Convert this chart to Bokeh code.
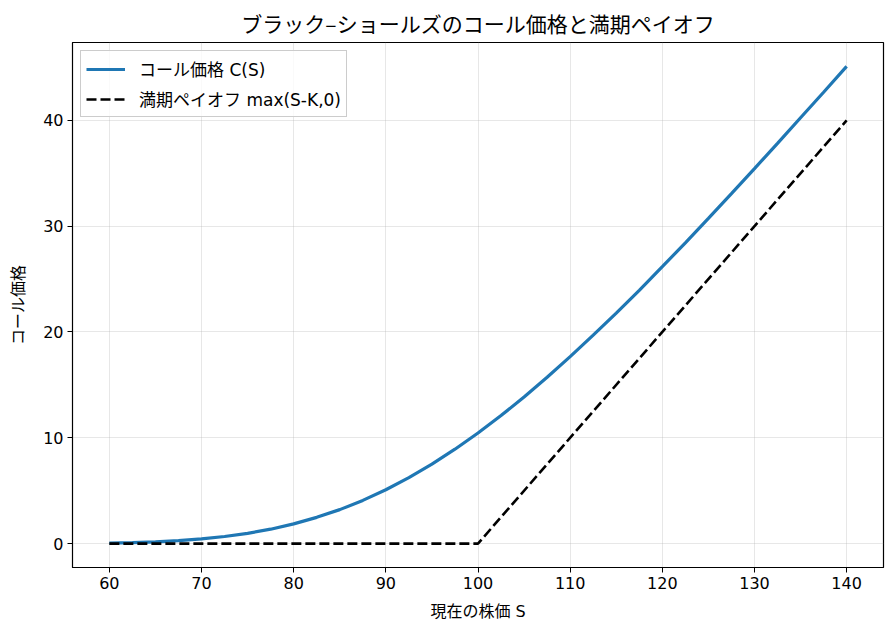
from bokeh.plotting import figure
from bokeh.models import Legend, LegendItem, FixedTicker, Range1d
from bokeh.embed import file_html
from bokeh.resources import INLINE

JP = "Noto Sans CJK JP"
MIX = "'DejaVu Sans', 'Noto Sans CJK JP'"

# stock price S and call value
spot = [60, 62.5, 65, 67.5, 70, 72.5, 75, 77.5, 80, 82.5, 85, 87.5, 90, 92.5, 95, 97.5,
        100, 102.5, 105, 107.5, 110, 112.5, 115, 117.5, 120, 122.5, 125, 127.5,
        130, 132.5, 135, 137.5, 140]
call_price = [0.05, 0.10, 0.17, 0.28, 0.44, 0.67, 0.97, 1.36, 1.86, 2.48, 3.21, 4.08,
              5.09, 6.24, 7.51, 8.92, 10.45, 12.10, 13.86, 15.72, 17.67, 19.70, 21.79,
              23.94, 26.17, 28.43, 30.73, 33.08, 35.44, 37.83, 40.25, 42.66, 45.10]

# payoff at expiry (kink at strike 100)
payoff_s = [60, 100, 140]
payoff_v = [0, 0, 40]

x_ticks = [60, 70, 80, 90, 100, 110, 120, 130, 140]
y_ticks = [0, 10, 20, 30, 40]

p = figure(width=895, height=636, output_backend="svg", toolbar_location=None,
           title="ブラック–ショールズのコール価格と満期ペイオフ",
           x_range=Range1d(56, 144), y_range=Range1d(-2.26, 47.36),
           min_border_left=72, min_border_right=12, min_border_top=42, min_border_bottom=69)

p.title.align = "center"
p.title.text_font = JP
p.title.text_font_size = "21px"
p.title.text_font_style = "normal"
p.title.text_color = "black"
p.title.standoff = 9

p.outline_line_color = "black"
p.outline_line_alpha = 1
p.outline_line_width = 1.2

for ax in (p.xaxis, p.yaxis):
    ax.major_label_text_font = MIX
    ax.major_label_text_font_size = "16px"
    ax.major_label_text_color = "black"
    ax.axis_label_text_font = MIX
    ax.axis_label_text_font_size = "16px"
    ax.axis_label_text_font_style = "normal"
    ax.axis_label_text_color = "black"
    ax.minor_tick_line_color = None
    ax.major_tick_out = 5
    ax.major_tick_in = 0
    ax.major_tick_line_color = "black"
    ax.axis_line_color = "black"
    ax.major_label_standoff = 4

p.xaxis.ticker = FixedTicker(ticks=x_ticks)
p.yaxis.ticker = FixedTicker(ticks=y_ticks)
p.xaxis.axis_label = "現在の株価 S"
p.yaxis.axis_label = "コール価格"
p.xaxis.axis_label_standoff = 10
p.yaxis.axis_label_standoff = 12

p.grid.grid_line_color = "#b0b0b0"
p.grid.grid_line_alpha = 0.3
p.grid.grid_line_width = 1

l1 = p.line(spot, call_price, line_width=3.2, color="#1f77b4")
l2 = p.line(payoff_s, payoff_v, line_width=2.6, color="black", line_dash="10 4")

legend = Legend(items=[LegendItem(label="コール価格 C(S)", renderers=[l1]),
                       LegendItem(label="満期ペイオフ max(S-K,0)", renderers=[l2])],
                location="top_left")
legend.label_text_font = MIX
legend.label_text_font_size = "17px"
legend.label_text_color = "black"
legend.border_line_color = "#cccccc"
legend.border_line_alpha = 1
legend.border_line_width = 1.5
legend.background_fill_alpha = 0.8
legend.glyph_width = 39
legend.glyph_height = 18
legend.label_standoff = 14
legend.spacing = 5
legend.margin = 8
legend.padding = 5
p.add_layout(legend)

open("out.html", "w").write(file_html(p, INLINE))
